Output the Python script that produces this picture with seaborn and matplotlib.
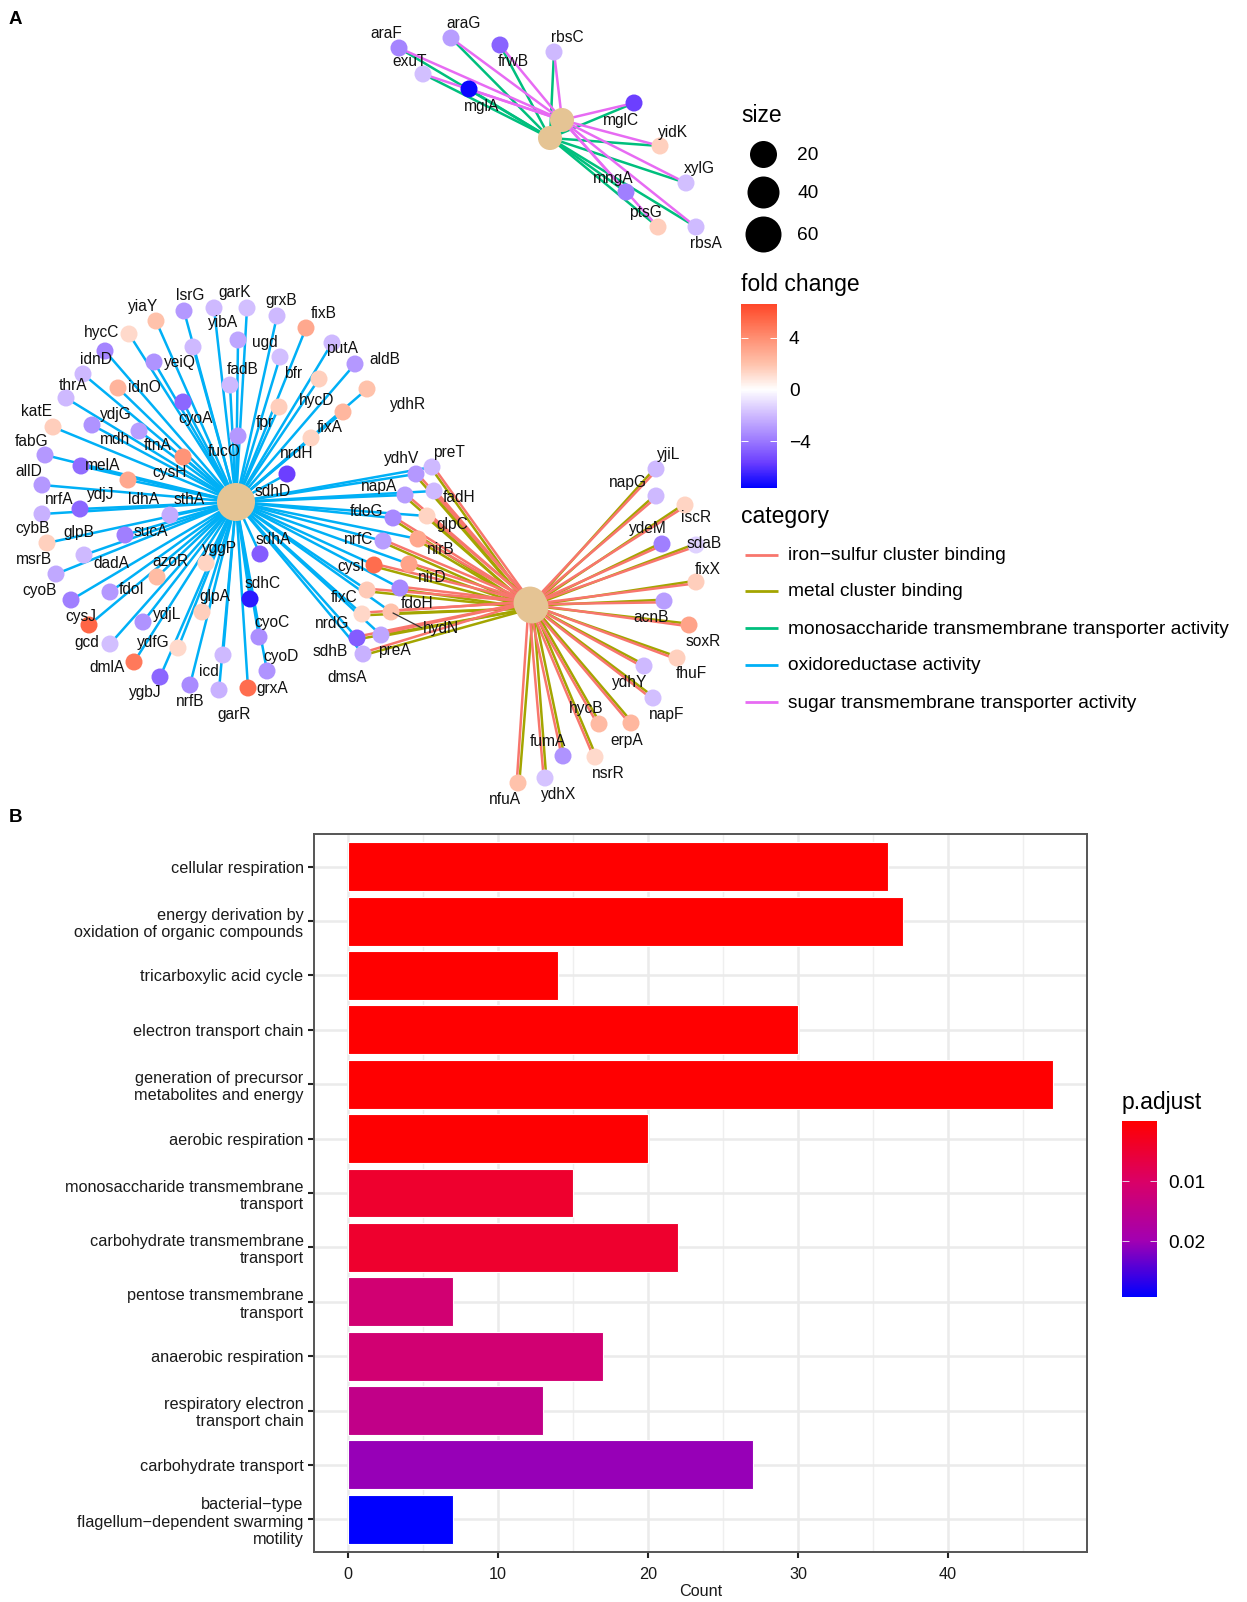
import matplotlib
matplotlib.use("Agg")
import matplotlib.pyplot as plt
import numpy as np
import pandas as pd
import seaborn as sns
from matplotlib.cm import ScalarMappable
from matplotlib.colors import LinearSegmentedColormap, Normalize

# panel A: gene nodes in pixels, grouped by which hubs they link to
ox_x = [184, 214, 247, 156, 277, 306, 129, 332, 193, 238, 280, 355, 105, 154, 83, 118, 230, 319, 367, 66,
        183, 279, 343, 53, 92, 139, 311, 183, 238, 45, 81, 128, 287, 42, 80, 42, 170, 125, 47, 84,
        56, 71, 110, 157, 206, 260, 250, 202, 143, 89, 110, 178, 134, 223, 259, 267, 160, 190, 219, 248]
ox_y = [311, 308, 308, 321, 316, 328, 334, 343, 347, 340, 357, 364, 351, 362, 374, 388, 385, 379, 389, 398,
        402, 407, 412, 427, 425, 431, 438, 457, 436, 455, 466, 480, 474, 485, 509, 514, 515, 535, 543, 555,
        574, 600, 592, 577, 563, 554, 599, 612, 622, 625, 644, 648, 662, 655, 637, 671, 677, 685, 690, 688]
ox_fc = [-3.0, -2, -1.8, 2, -2, 3, 1.2, -2, -2, -2.6, -1.8, -3, -3.6, -3.2, -2, 2.5, -2, 1.5, 2, -2,
         -4.5, 1.6, 2.4, 1.6, -3.2, -2.8, 1.4, 3.8, -3, -3, -4.3, 3, -5.6, -3, -4.5, -2.2, -2.4, -3.8, 1.5, -2,
         -2.5, -3.8, -3, 2.2, 1.4, -4.8, -6.8, 1.6, -3.2, 5.5, -1.8, 1.2, 4.8, -2, -3.3, -3.2, -4.5, -3.4, -2.2, 5.2]

mid_x = [416, 432, 405, 434, 393, 427, 383, 418, 374, 409, 400, 367, 362, 391, 357, 381, 363]
mid_y = [474, 467, 495, 491, 518, 516, 541, 539, 565, 564, 588, 590, 614, 612, 638, 635, 654]
mid_fc = [-3, -2, -2.8, -2, -3.5, 1.4, -2.8, 3, 5.2, 3.2, -3.5, 1.7, 1.3, 2, -4.8, -2.6, -2.2]

iron_x = [656, 656, 685, 662, 696, 696, 664, 689, 677, 644, 653, 631, 599, 595, 563, 545, 518]
iron_y = [469, 496, 505, 544, 545, 582, 601, 625, 658, 666, 698, 723, 724, 757, 756, 778, 783]
iron_fc = [-2, -2, 1.4, -3.8, -1.3, 1.6, -2.8, 3.2, 1.5, -2, -1.8, 2.4, 2.3, 1.2, -3.2, -1.7, 2]

sugar_x = [399, 451, 500, 554, 423, 469, 634, 660, 686, 626, 658, 696]
sugar_y = [48, 38, 45, 52, 74, 89, 103, 146, 183, 192, 227, 227]
sugar_fc = [-3.6, -2.8, -4.6, -2, -1.8, -7.4, -5.6, 1.5, -1.8, -3.8, 1.6, -1.9]

# hub centres, one per category
hub_names = ["oxidoreductase activity", "iron\u2212sulfur cluster binding", "metal cluster binding",
             "monosaccharide transmembrane transporter activity", "sugar transmembrane transporter activity"]
hub_x = [236, 530, 532, 550, 562]
hub_y = [502, 603, 607, 138, 120]
hub_size = [750, 560, 560, 300, 300]

gene_labels = ["araF", "araG", "frwB", "rbsC", "exuT", "mglA", "mglC", "yidK", "xylG", "mngA", "ptsG", "rbsA",
               "yiaY", "lsrG", "garK", "yibA", "grxB", "fixB", "hycC", "yeiQ", "ugd", "putA", "idnD", "fadB",
               "bfr", "aldB", "thrA", "idnO", "cyoA", "hycD", "ydhR", "katE", "ydjG", "mdh", "ftnA", "fpr",
               "fixA", "fabG", "melA", "cysH", "fucO", "nrdH", "allD", "nrfA", "ydjJ", "ldhA", "sthA", "sdhD",
               "cybB", "glpB", "sucA", "msrB", "dadA", "azoR", "yggP", "sdhA", "cyoB", "fdoI", "sdhC", "glpA",
               "cysJ", "ydjL", "cyoC", "gcd", "ydfG", "cyoD", "dmlA", "icd", "grxA", "ygbJ", "nrfB", "garR",
               "sdhB", "dmsA", "nrdG", "fixC", "cysI", "nrfC", "fdoG", "napA", "ydhV", "preT", "fadH", "glpC",
               "nirB", "nirD", "fdoH", "hydN", "preA", "yjiL", "napG", "iscR", "ydeM", "sdaB", "fixX", "acnB",
               "soxR", "fhuF", "ydhY", "napF", "hycB", "erpA", "fumA", "nsrR", "ydhX", "nfuA"]
gene_label_x = [386, 464, 513, 567, 410, 482, 621, 673, 699, 613, 645, 706,
                143, 190, 235, 223, 281, 324, 102, 180, 265, 342, 96, 243,
                293, 385, 73, 144, 196, 317, 408, 36, 116, 115, 158, 265,
                330, 32, 103, 170, 224, 297, 29, 59, 101, 144, 189, 273,
                33, 79, 151, 34, 111, 170, 220, 273, 40, 132, 263, 215,
                81, 167, 272, 87, 153, 281, 107, 209, 272, 145, 190, 234,
                330, 347, 332, 344, 351, 359, 367, 379, 402, 449, 459, 452,
                441, 432, 417, 441, 394, 669, 628, 696, 648, 704, 708, 651,
                703, 691, 630, 667, 586, 627, 548, 608, 559, 505]
gene_label_y = [34, 23, 62, 38, 62, 106, 121, 132, 169, 178, 212, 243,
                306, 296, 293, 323, 301, 313, 332, 363, 343, 349, 359, 370,
                373, 360, 386, 388, 418, 400, 404, 412, 414, 440, 445, 423,
                427, 441, 466, 473, 452, 454, 471, 499, 495, 499, 500, 491,
                528, 533, 531, 559, 563, 562, 548, 539, 590, 589, 584, 596,
                616, 615, 623, 643, 642, 656, 667, 672, 688, 693, 702, 714,
                651, 677, 624, 597, 566, 539, 512, 486, 459, 452, 498, 525,
                550, 577, 603, 629, 651, 454, 483, 518, 529, 544, 569, 617,
                641, 673, 682, 714, 709, 740, 741, 773, 794, 799]

category_names = ["iron\u2212sulfur cluster binding", "metal cluster binding",
                  "monosaccharide transmembrane transporter activity",
                  "oxidoreductase activity", "sugar transmembrane transporter activity"]
category_colors = ["#F8766D", "#A3A500", "#00BF7D", "#00B0F6", "#E76BF3"]
size_levels = [20, 40, 60]
fold_ticks = [-4, 0, 4]

# panel B: enrichment bars
terms = ["cellular respiration", "energy derivation by\noxidation of organic compounds",
         "tricarboxylic acid cycle", "electron transport chain",
         "generation of precursor\nmetabolites and energy", "aerobic respiration",
         "monosaccharide transmembrane\ntransport", "carbohydrate transmembrane\ntransport",
         "pentose transmembrane\ntransport", "anaerobic respiration",
         "respiratory electron\ntransport chain", "carbohydrate transport",
         "bacterial\u2212type\nflagellum\u2212dependent swarming\nmotility"]
counts = [36, 37, 14, 30, 47, 20, 15, 22, 7, 17, 13, 27, 7]
p_adjust = [0.0001, 0.0001, 0.0001, 0.0002, 0.0002, 0.0003, 0.0045, 0.0045, 0.0115, 0.0115, 0.0145, 0.0205, 0.0293]

W, H = 1247, 1602
FONT = "Liberation Sans"


def px_axes(fig, x0, y0, x1, y1):
    # axes from pixel box, y measured from the top
    return fig.add_axes([x0 / W, 1 - y1 / H, (x1 - x0) / W, (y1 - y0) / H])


sns.set_theme(style="white")
plt.rcParams["font.family"] = [FONT, "DejaVu Sans"]

fold_cmap = LinearSegmentedColormap.from_list(
    "fold", ["#0000ff", "#6a3dff", "#a07fff", "#d0bcff", "#ffffff", "#ffc4ae", "#ff9478", "#ff6040", "#ff2a10"])
fold_norm = Normalize(-7.6, 7.6)
p_cmap = LinearSegmentedColormap.from_list(
    "padj", [(0, "#ff0000"), (0.34, "#da0066"), (0.68, "#a200b2"), (1, "#0000ff")])
p_norm = Normalize(0, 0.0293)

fig = plt.figure(figsize=(W / 100, H / 100), dpi=100, facecolor="white")
net = fig.add_axes([0, 0, 1, 1])
net.set_xlim(0, W)
net.set_ylim(H, 0)
net.axis("off")

# build one table of edges so seaborn handles the colouring
rows = []
# sideways nudge so paired edges run next to each other instead of on top
nudge = {hub_names[1]: 1.3, hub_names[2]: -1.3}


def add_edges(xs, ys, hubs):
    for nx, ny in zip(xs, ys):
        for hub in hubs:
            i = hub_names.index(hub)
            dx, dy = nx - hub_x[i], ny - hub_y[i]
            norm = np.hypot(dx, dy)
            off = nudge.get(hub, 0)
            ox, oy = -dy / norm * off, dx / norm * off
            edge = len(rows)
            rows.append((edge, hub, hub_x[i] + ox, hub_y[i] + oy))
            rows.append((edge, hub, nx + ox, ny + oy))


add_edges(ox_x, ox_y, [hub_names[0]])
add_edges(mid_x, mid_y, [hub_names[0], hub_names[2], hub_names[1]])
add_edges(iron_x, iron_y, [hub_names[2], hub_names[1]])
add_edges(sugar_x, sugar_y, [hub_names[3], hub_names[4]])
edges = pd.DataFrame(rows, columns=["edge", "category", "x", "y"])

# olive first so the pink edges stay visible on top of it
edge_palette = dict(zip(category_names, category_colors))
sns.lineplot(data=edges, x="x", y="y", hue="category", units="edge", estimator=None, sort=False,
             hue_order=[category_names[i] for i in (1, 2, 3, 0, 4)], palette=edge_palette,
             linewidth=1.8, legend=False, ax=net, zorder=1)
net.set_xlabel("")
net.set_ylabel("")

nodes = pd.DataFrame({"x": ox_x + mid_x + iron_x + sugar_x,
                      "y": ox_y + mid_y + iron_y + sugar_y,
                      "fc": ox_fc + mid_fc + iron_fc + sugar_fc})
sns.scatterplot(data=nodes, x="x", y="y", hue="fc", hue_norm=fold_norm, palette=fold_cmap, s=150,
                linewidth=0, legend=False, ax=net, zorder=3)
net.scatter(hub_x, hub_y, s=hub_size, color="#E5C494", linewidth=0, zorder=4)
net.set_xlabel("")
net.set_ylabel("")

for txt, lx, ly in zip(gene_labels, gene_label_x, gene_label_y):
    net.text(lx, ly, txt, fontsize=11.2, color="#111111", ha="center", va="center", zorder=5)
net.plot([393, 422], [613, 628], color="#333333", linewidth=0.9, zorder=5)

net.text(15, 20, "A", fontsize=13.5, fontweight="bold", color="black", ha="center", va="center")
net.text(16, 818, "B", fontsize=13.5, fontweight="bold", color="black", ha="center", va="center")

# size legend
net.text(741, 116, "size", fontsize=16.5, color="black", ha="left", va="center")
for lev, ly, d in zip(size_levels, [154, 192, 234], [27, 32, 36]):
    net.scatter([763], [ly], s=(d * 0.72) ** 2, color="black", linewidth=0, zorder=3)
    net.text(797, ly + 2, str(lev), fontsize=13.8, color="black", ha="left", va="center")

# category legend
net.text(741, 516, "category", fontsize=16.5, color="black", ha="left", va="center")
for name, col, ly in zip(category_names, category_colors, [555, 591, 628, 665, 702]):
    net.plot([745, 778], [ly, ly], color=col, linewidth=2, solid_capstyle="butt")
    net.text(788, ly + 1, name, fontsize=13.8, color="black", ha="left", va="center")

# fold change colourbar
net.text(741, 285, "fold change", fontsize=16.5, color="black", ha="left", va="center")
cax = px_axes(fig, 741, 304, 777, 488)
fold_bar = fig.colorbar(ScalarMappable(norm=fold_norm, cmap=fold_cmap), cax=cax)
fold_bar.outline.set_visible(False)
cax.set_ylim(-7.6, 6.6)
cax.set_yticks(fold_ticks, labels=["\u22124", "0", "4"])
cax.tick_params(axis="y", length=0, pad=8.5, labelsize=13.8, labelcolor="black")
cax.hlines(fold_ticks, 0, 0.2, color="white", linewidth=0.7, transform=cax.get_yaxis_transform())
cax.hlines(fold_ticks, 0.8, 1, color="white", linewidth=0.7, transform=cax.get_yaxis_transform())

# panel B
ax = px_axes(fig, 314, 834, 1087, 1552)
bars = pd.DataFrame({"term": terms, "count": counts, "p": p_adjust})
sns.barplot(data=bars, x="count", y="term", hue="term", dodge=False, legend=False, width=0.9,
            palette=[p_cmap(p_norm(p)) for p in p_adjust], saturation=1,
            edgecolor="white", linewidth=0.8, ax=ax, zorder=3)
ax.set_xlim(-2.29, 49.28)
ax.set_ylim(12.6, -0.6)
ax.set_xticks([0, 10, 20, 30, 40])
ax.set_xticks([5, 15, 25, 35, 45], minor=True)
ax.grid(True, which="major", color="#EBEBEB", linewidth=1.8, zorder=0)
ax.grid(True, which="minor", axis="x", color="#EFEFEF", linewidth=1.0, zorder=0)
ax.set_axisbelow(True)
ax.tick_params(axis="y", which="major", length=4.5, width=1.5, color="#222222", labelsize=11.7,
               labelcolor="#1a1a1a", pad=3, left=True)
ax.tick_params(axis="x", which="major", length=4.5, width=1.5, color="#222222", labelsize=11.7,
               labelcolor="#1a1a1a", pad=6.5, bottom=True)
ax.tick_params(axis="x", which="minor", length=0)
for lab in ax.get_yticklabels():
    lab.set_linespacing(1.2)
for s in ax.spines.values():
    s.set_visible(True)
    s.set_color("#555555")
    s.set_linewidth(1.4)
ax.set_xlabel("Count", fontsize=11.7, color="#1a1a1a", labelpad=1.5)
ax.set_ylabel("")

# p.adjust colourbar
net.text(1122, 1102, "p.adjust", fontsize=16.5, color="black", ha="left", va="center")
pax = px_axes(fig, 1122, 1121, 1157, 1297)
p_bar = fig.colorbar(ScalarMappable(norm=p_norm, cmap=p_cmap), cax=pax)
p_bar.outline.set_visible(False)
pax.invert_yaxis()
pax.set_yticks([0.01, 0.02], labels=["0.01", "0.02"])
pax.tick_params(axis="y", length=0, pad=8, labelsize=13.8, labelcolor="black")
pax.hlines([0.01, 0.02], 0, 0.2, color="#e8d0e8", linewidth=0.7, transform=pax.get_yaxis_transform())
pax.hlines([0.01, 0.02], 0.8, 1, color="#e8d0e8", linewidth=0.7, transform=pax.get_yaxis_transform())

fig.savefig("out.png", dpi=100, facecolor="white")
